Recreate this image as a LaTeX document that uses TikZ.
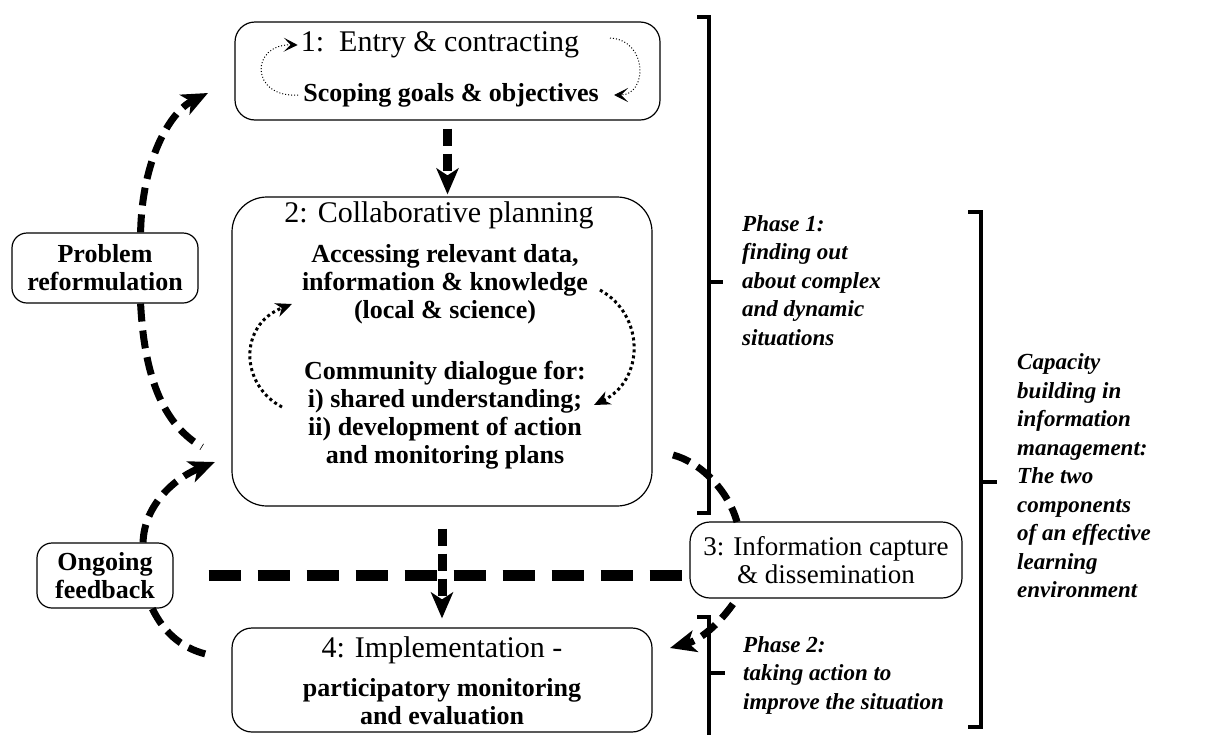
\documentclass[tikz,border=0pt]{standalone}
\usepackage{fontspec}
\setmainfont{Liberation Serif}
\usetikzlibrary{arrows.meta}

\newcommand{\ttlfont}{\fontsize{30}{32}\selectfont}
\newcommand{\txtfont}{\fontsize{26}{28}\selectfont\bfseries}
\newcommand{\phfont}{\fontsize{23}{28.5}\selectfont\bfseries\itshape}

\begin{document}
\begin{tikzpicture}[x=1pt,y=-1pt,>={Stealth[length=26pt,width=22pt,inset=7pt]},
	stage/.style={draw,line width=1.2pt,rounded corners=#1,inner sep=0pt,align=center},
	stage/.default=20pt,
	ttl/.style={font=\ttlfont,inner sep=0pt,align=center},
	txt/.style={font=\txtfont,inner sep=0pt,align=center},
	phase/.style={font=\phfont,inner sep=0pt,align=left,anchor=west},
	cdash/.style={line width=7pt,dash pattern=on 18pt off 9pt},
	vdash/.style={line width=9pt,dash pattern=on 17pt off 8pt},
	hdash/.style={line width=11pt,dash pattern=on 32pt off 17pt},
	dloop/.style={line width=3pt,dash pattern=on 3pt off 3pt,-{Stealth[length=16pt,width=14pt,inset=5pt]}},
	floop/.style={line width=1pt,dash pattern=on 1pt off 2pt,-{Stealth[length=14pt,width=14pt,inset=7pt]}},
	brk/.style={line width=4pt,line join=miter}]
		\useasboundingbox (0,0) rectangle (1231,734);
		
		% The four stages
		\node[stage,minimum width=425pt,minimum height=98pt] (box1) at (447.5,71) {};
		\node[ttl] (t1) at (440,45) {1:\ \ Entry \& contracting};
		\node[txt] (t1b) at (451,95) {Scoping goals \& objectives};
		
		\node[stage=35pt,minimum width=420pt,minimum height=309pt] (box2) at (442,351.5) {};
		\node[ttl] (t2) at (439,215) {2: Collaborative planning};
		\node[txt] (acc) at (445,284) {Accessing relevant data,\\information \& knowledge\\(local \& science)};
		\node[txt] (com) at (445,415) {Community dialogue for:\\i) shared understanding;\\ii) development of action\\and monitoring plans};
		
		\node[stage,minimum width=272pt,minimum height=76pt,font={\fontsize{27}{28}\selectfont}] (box3) at (826,560) {3: Information capture\\\& dissemination};
		
		\node[stage,minimum width=420pt,minimum height=104pt] (box4) at (442,680) {};
		\node[ttl] (t4) at (442,650) {4: Implementation -};
		\node[txt] (part) at (442,702) {participatory monitoring\\and evaluation};
		
		% The side boxes
		\node[stage=15pt,minimum width=186pt,minimum height=70pt,font=\txtfont] (prob) at (105,268) {Problem\\reformulation};
		\node[stage=15pt,minimum width=136pt,minimum height=65pt,font=\txtfont] (feed) at (105,575.5) {Ongoing\\feedback};
		
		% The loose ends
		\coordinate (fa) at (610,38);
		\coordinate (fb) at (614,95);
		\coordinate (la) at (282,407);
		\coordinate (lb) at (292,304);
		\coordinate (ra) at (600,290);
		\coordinate (rb) at (594,405);
		\coordinate (tip1) at (208,93);
		\coordinate (end1) at (202,447);
		\coordinate (tip2) at (215,462);
		\coordinate (end2) at (210,655);
		\coordinate (st3) at (673,455);
		\coordinate (end3) at (737,522);
		\coordinate (st4) at (733,604);
		\coordinate (tip4) at (670,648);
		
		% The small loops
		\draw[floop] ([xshift=-5pt]t1b.west) .. controls (250,98) and (250,44) .. ([xshift=-3pt]t1.west);
		\draw[floop] (fa) .. controls (648,40) and (648,95) .. (fb);
		\draw[dloop] (la) .. controls (240,385) and (238,325) .. (lb);
		\draw[dloop] (ra) .. controls (645,315) and (645,380) .. (rb);
		
		% The main flow
		\draw[vdash,->,shorten <=8pt,shorten >=2pt] (box1.south) -- (box1.south |- box2.north);
		\draw[vdash,->,shorten <=22pt,shorten >=9pt] (box2.south) -- (box4.north);
		\draw[hdash,shorten <=35pt] (feed.east) -- (feed.east -| box3.west);
		
		% The feedback curves
		\draw[cdash,->] (prob.45) .. controls (142,160) and (170,112) .. (tip1);
		\draw[cdash] (prob.-45) .. controls (145,390) and (170,428) .. (end1);
		\draw[cdash,->] (feed.41) .. controls (144,505) and (175,478) .. (tip2);
		\draw[cdash] (feed.-35) .. controls (165,635) and (185,650) .. (end2);
		\draw[cdash] (st3) .. controls (700,462) and (728,490) .. (end3);
		\draw[cdash,->] (st4) .. controls (718,625) and (700,640) .. (tip4);
		
		% The brackets
		\draw[brk] (697,17) -- (709,17) -- (709,513) -- (697,513);
		\draw[brk] (709,282) -- (723,282);
		\draw[brk] (697,617) -- (709,617) -- (709,740);
		\draw[brk] (709,673) -- (725,673);
		\draw[brk] (968,212) -- (981,212) -- (981,727) -- (968,727);
		\draw[brk] (981,482) -- (997,482);
		
		\node[phase] (ph1) at (742,280.5) {Phase 1:\\finding out\\about complex\\and dynamic\\situations};
		\node[phase] (ph2) at (743,675) {Phase 2:\\taking action to\\improve the situation};
		\node[phase] (cap) at (1017,476) {Capacity\\building in\\information\\management:\\The two\\components\\of an effective\\learning\\environment};
	\end{tikzpicture}
\end{document}
